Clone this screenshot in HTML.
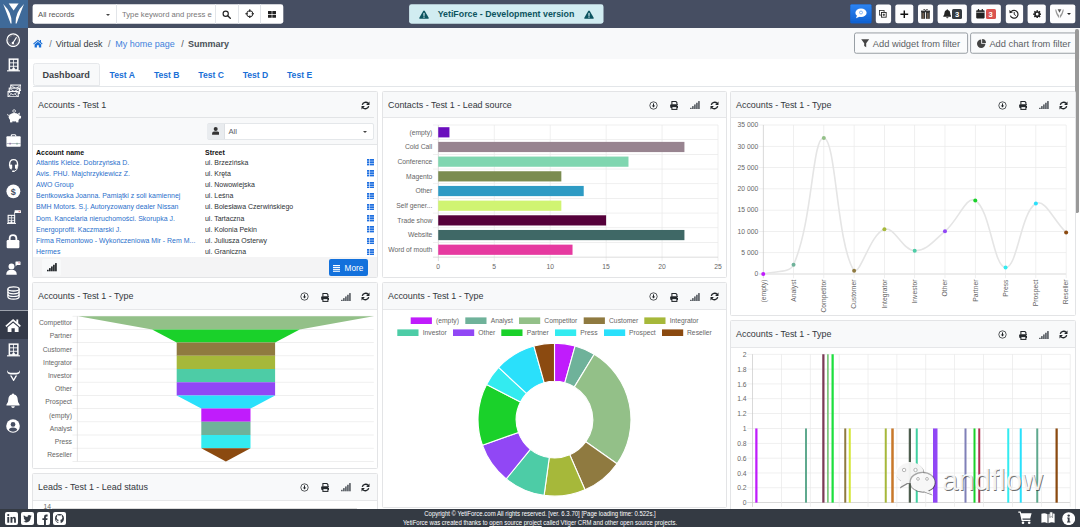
<!DOCTYPE html>
<html><head><meta charset="utf-8"><title>YetiForce</title>
<style>
*{box-sizing:border-box}
html,body{margin:0;padding:0;overflow:hidden}
body{width:1080px;height:527px;overflow:hidden;position:relative;background:#fff;font-family:"Liberation Sans",sans-serif;color:#212529}
.abs{position:absolute}
.t{position:absolute;white-space:nowrap;line-height:1}
#topbar{left:0;top:0;width:1080px;height:28px;background:#464e62}
#side{left:0;top:0;width:28px;height:509px;background:#464e62}
#logo{left:0;top:0;width:28px;height:28px;background:#3f6a99}
#crumb{left:28px;top:28px;width:1052px;height:30.5px;background:#f8f9fa}
#foot{left:0;top:508.5px;width:1080px;height:18.5px;background:#343a43}
.btn{position:absolute;top:4.5px;height:19px;background:#fff;border-radius:2px}
.w{position:absolute;background:#fff;border:1px solid #e3e4e6;border-radius:1.5px;overflow:hidden}
.wh{position:absolute;left:0;top:0;right:0;height:26px;background:#f8f9fa;border-bottom:1px solid #e6e7e9}
.wt{position:absolute;left:5px;top:8.5px;font-size:8.93px;line-height:1;white-space:nowrap;color:#33383d;letter-spacing:0}
.cl{font-size:6.75px;fill:#666;font-family:"Liberation Sans",sans-serif}
.row{position:absolute;left:0;right:0;height:11.2px;font-size:6.97px;line-height:11.2px;white-space:nowrap}
.row a{position:absolute;left:2.5px;color:#1a6fc9;text-decoration:none}
.row span{position:absolute;left:171px;color:#212529}
</style></head>
<body>
<div id="crumb" class="abs"></div>
<svg class="abs" style="left:33.300000000000004px;top:38.790000000000006px" width="9.799999999999999" height="8.819999999999999" viewBox="0 0 14 12.6" ><path d="M7 0.9L0.3 6.6L1.2 7.7L7 2.8L12.8 7.7L13.7 6.6L11.4 4.6V1.4H9.8V3.2z" fill="#1a6fd6"/><path d="M7 4.1L2.3 8V12H5.6V8.9H8.4V12H11.7V8z" fill="#1a6fd6"/></svg><div class="t" style="left:49.3px;top:40.2px;font-size:9px;color:#6c757d">/</div><div class="t" style="left:55.7px;top:40.2px;font-size:9px;color:#343a40">Virtual desk</div><div class="t" style="left:108px;top:40.2px;font-size:9px;color:#6c757d">/</div><div class="t" style="left:115.2px;top:40.2px;font-size:9px;color:#3f82dc">My home page</div><div class="t" style="left:181.3px;top:40.2px;font-size:9px;color:#495057">/</div><div class="t" style="left:188px;top:40.2px;font-size:9px;color:#495057;font-weight:bold">Summary</div><svg class="abs" style="left:840px;top:28px" width="240" height="32" viewBox="0 0 240 32" ><rect x="14.5" y="4.95" width="113.1" height="20.3" rx="1.8" fill="#fafbfc" stroke="#878e95" stroke-width="0.85"/><rect x="130.6" y="4.95" width="106.4" height="20.3" rx="1.8" fill="#fafbfc" stroke="#878e95" stroke-width="0.85"/></svg><svg class="abs" style="left:861.3px;top:39.3px" width="8.4" height="8.6" viewBox="0 0 8.4 8.6" ><path d="M0.2 0.3H8.2L5.2 4.2V8.3L3.2 6.9V4.2z" fill="#444"/></svg><div class="t" style="left:872.8px;top:39.5px;font-size:9.3px;color:#5a5f64">Add widget from filter</div><svg class="abs" style="left:977.4px;top:39px" width="9" height="9" viewBox="0 0 9 9" ><path d="M4.2 0.6V4.8H8.4A4.2 4.2 0 1 1 4.2 0.6z" fill="#444"/><path d="M5.1 0A4 4 0 0 1 9 3.9H5.1z" fill="#444"/></svg><div class="t" style="left:989.4px;top:39.5px;font-size:9.3px;color:#5a5f64">Add chart from filter</div><div class="abs" style="left:1075.4px;top:28.8px;width:3.5px;height:184.7px;background:#999;border-radius:1.7px"></div><div class="abs" style="left:33px;top:85.5px;width:1042px;height:1px;background:#e3e6e9"></div><div class="abs" style="left:32.8px;top:63.4px;width:66.8px;height:22.8px;background:#f8f9fa;border:1px solid #e6e8eb;border-radius:2.5px 2.5px 0 2.5px"></div><div class="t" style="left:42.4px;top:70.6px;font-size:9.1px;font-weight:bold;color:#3d4247">Dashboard</div><div class="t" style="left:109.6px;top:70.9px;font-size:8.6px;font-weight:bold;color:#1a6fd6">Test A</div><div class="t" style="left:153.95px;top:70.9px;font-size:8.6px;font-weight:bold;color:#1a6fd6">Test B</div><div class="t" style="left:198.3px;top:70.9px;font-size:8.6px;font-weight:bold;color:#1a6fd6">Test C</div><div class="t" style="left:242.65px;top:70.9px;font-size:8.6px;font-weight:bold;color:#1a6fd6">Test D</div><div class="t" style="left:287.0px;top:70.9px;font-size:8.6px;font-weight:bold;color:#1a6fd6">Test E</div><div class="w" style="left:32px;top:91px;width:346px;height:187px"><div class="wh"></div><div class="wt">Accounts - Test 1</div></div>
<svg class="abs" style="left:360.9px;top:100.7px" width="9" height="9" viewBox="0 0 9 9" ><path d="M1.3 3.9A3.4 3.4 0 0 1 7.2 2.4" fill="none" stroke="#212529" stroke-width="1.35"/><path d="M8.5 0.6V4H5.1z" fill="#212529"/><path d="M7.7 5.1A3.4 3.4 0 0 1 1.8 6.6" fill="none" stroke="#212529" stroke-width="1.35"/><path d="M0.5 8.4V5H3.9z" fill="#212529"/></svg><div class="abs" style="left:33px;top:117px;width:344px;height:28px;background:#f8f9fa;border-bottom:1px solid #e4e6e8"></div><div class="abs" style="left:36px;top:117px;width:338px;height:1px;background:#e2e4e6"></div><div class="abs" style="left:206.8px;top:123px;width:167.2px;height:16.8px;background:#fff;border:0.8px solid #e4e7ea;border-radius:2px"></div><div class="abs" style="left:207.2px;top:123.5px;width:17.5px;height:15.8px;background:#e9ecef;border-right:0.8px solid #dde0e4"></div><svg class="abs" style="left:211.9px;top:127.4px" width="7.4" height="8" viewBox="0 0 7.4 8" ><circle cx="3.7" cy="2.1" r="2" fill="#333"/><path d="M0.1 7.8V6.4Q0.1 4.6 2 4.6H5.4Q7.3 4.6 7.3 6.4V7.8z" fill="#333"/></svg><div class="t" style="left:228.4px;top:127.8px;font-size:7.7px;color:#5a6066">All</div><div class="abs" style="left:362.7px;top:131px;width:0;height:0;border-left:2.3px solid transparent;border-right:2.3px solid transparent;border-top:2.5px solid #444"></div><div class="t" style="left:36px;top:148.7px;font-size:7.6px;transform:scaleX(0.92);transform-origin:0 0;font-weight:bold;color:#111">Account name</div><div class="t" style="left:204.5px;top:148.7px;font-size:7.6px;transform:scaleX(0.92);transform-origin:0 0;font-weight:bold;color:#111">Street</div><div class="t" style="left:36px;top:158.55px;font-size:7.4px;transform:scaleX(0.942);transform-origin:0 0;color:#2a6fcb">Atlantis Kielce. Dobrzyńska D.</div><div class="t" style="left:204.5px;top:158.55px;font-size:7.4px;transform:scaleX(0.942);transform-origin:0 0;color:#2b2f33">ul. Brzezińska</div><svg class="abs" style="left:366.5px;top:159.1px" width="7.3" height="6.6" viewBox="0 0 7.3 6.6" ><rect x="0" y="0.0" width="2.1" height="1.8" fill="#1e6fe0"/><rect x="2.7" y="0.0" width="4.5" height="1.8" fill="#1e6fe0"/><rect x="0" y="2.3" width="2.1" height="1.8" fill="#1e6fe0"/><rect x="2.7" y="2.3" width="4.5" height="1.8" fill="#1e6fe0"/><rect x="0" y="4.6" width="2.1" height="1.8" fill="#1e6fe0"/><rect x="2.7" y="4.6" width="4.5" height="1.8" fill="#1e6fe0"/></svg><div class="t" style="left:36px;top:169.75px;font-size:7.4px;transform:scaleX(0.942);transform-origin:0 0;color:#2a6fcb">Avis. PHU. Majchrzykiewicz Z.</div><div class="t" style="left:204.5px;top:169.75px;font-size:7.4px;transform:scaleX(0.942);transform-origin:0 0;color:#2b2f33">ul. Kręta</div><svg class="abs" style="left:366.5px;top:170.29999999999998px" width="7.3" height="6.6" viewBox="0 0 7.3 6.6" ><rect x="0" y="0.0" width="2.1" height="1.8" fill="#1e6fe0"/><rect x="2.7" y="0.0" width="4.5" height="1.8" fill="#1e6fe0"/><rect x="0" y="2.3" width="2.1" height="1.8" fill="#1e6fe0"/><rect x="2.7" y="2.3" width="4.5" height="1.8" fill="#1e6fe0"/><rect x="0" y="4.6" width="2.1" height="1.8" fill="#1e6fe0"/><rect x="2.7" y="4.6" width="4.5" height="1.8" fill="#1e6fe0"/></svg><div class="t" style="left:36px;top:180.95px;font-size:7.4px;transform:scaleX(0.942);transform-origin:0 0;color:#2a6fcb">AWO Group</div><div class="t" style="left:204.5px;top:180.95px;font-size:7.4px;transform:scaleX(0.942);transform-origin:0 0;color:#2b2f33">ul. Nowowiejska</div><svg class="abs" style="left:366.5px;top:181.5px" width="7.3" height="6.6" viewBox="0 0 7.3 6.6" ><rect x="0" y="0.0" width="2.1" height="1.8" fill="#1e6fe0"/><rect x="2.7" y="0.0" width="4.5" height="1.8" fill="#1e6fe0"/><rect x="0" y="2.3" width="2.1" height="1.8" fill="#1e6fe0"/><rect x="2.7" y="2.3" width="4.5" height="1.8" fill="#1e6fe0"/><rect x="0" y="4.6" width="2.1" height="1.8" fill="#1e6fe0"/><rect x="2.7" y="4.6" width="4.5" height="1.8" fill="#1e6fe0"/></svg><div class="t" style="left:36px;top:192.15px;font-size:7.4px;transform:scaleX(0.942);transform-origin:0 0;color:#2a6fcb">Bentkowska Joanna. Pamiątki z soli kamiennej</div><div class="t" style="left:204.5px;top:192.15px;font-size:7.4px;transform:scaleX(0.942);transform-origin:0 0;color:#2b2f33">ul. Leśna</div><svg class="abs" style="left:366.5px;top:192.7px" width="7.3" height="6.6" viewBox="0 0 7.3 6.6" ><rect x="0" y="0.0" width="2.1" height="1.8" fill="#1e6fe0"/><rect x="2.7" y="0.0" width="4.5" height="1.8" fill="#1e6fe0"/><rect x="0" y="2.3" width="2.1" height="1.8" fill="#1e6fe0"/><rect x="2.7" y="2.3" width="4.5" height="1.8" fill="#1e6fe0"/><rect x="0" y="4.6" width="2.1" height="1.8" fill="#1e6fe0"/><rect x="2.7" y="4.6" width="4.5" height="1.8" fill="#1e6fe0"/></svg><div class="t" style="left:36px;top:203.35px;font-size:7.4px;transform:scaleX(0.942);transform-origin:0 0;color:#2a6fcb">BMH Motors. S.j. Autoryzowany dealer Nissan</div><div class="t" style="left:204.5px;top:203.35px;font-size:7.4px;transform:scaleX(0.942);transform-origin:0 0;color:#2b2f33">ul. Bolesława Czerwińskiego</div><svg class="abs" style="left:366.5px;top:203.9px" width="7.3" height="6.6" viewBox="0 0 7.3 6.6" ><rect x="0" y="0.0" width="2.1" height="1.8" fill="#1e6fe0"/><rect x="2.7" y="0.0" width="4.5" height="1.8" fill="#1e6fe0"/><rect x="0" y="2.3" width="2.1" height="1.8" fill="#1e6fe0"/><rect x="2.7" y="2.3" width="4.5" height="1.8" fill="#1e6fe0"/><rect x="0" y="4.6" width="2.1" height="1.8" fill="#1e6fe0"/><rect x="2.7" y="4.6" width="4.5" height="1.8" fill="#1e6fe0"/></svg><div class="t" style="left:36px;top:214.55px;font-size:7.4px;transform:scaleX(0.942);transform-origin:0 0;color:#2a6fcb">Dom. Kancelaria nieruchomości. Skorupka J.</div><div class="t" style="left:204.5px;top:214.55px;font-size:7.4px;transform:scaleX(0.942);transform-origin:0 0;color:#2b2f33">ul. Tartaczna</div><svg class="abs" style="left:366.5px;top:215.1px" width="7.3" height="6.6" viewBox="0 0 7.3 6.6" ><rect x="0" y="0.0" width="2.1" height="1.8" fill="#1e6fe0"/><rect x="2.7" y="0.0" width="4.5" height="1.8" fill="#1e6fe0"/><rect x="0" y="2.3" width="2.1" height="1.8" fill="#1e6fe0"/><rect x="2.7" y="2.3" width="4.5" height="1.8" fill="#1e6fe0"/><rect x="0" y="4.6" width="2.1" height="1.8" fill="#1e6fe0"/><rect x="2.7" y="4.6" width="4.5" height="1.8" fill="#1e6fe0"/></svg><div class="t" style="left:36px;top:225.75px;font-size:7.4px;transform:scaleX(0.942);transform-origin:0 0;color:#2a6fcb">Energoprofit. Kaczmarski J.</div><div class="t" style="left:204.5px;top:225.75px;font-size:7.4px;transform:scaleX(0.942);transform-origin:0 0;color:#2b2f33">ul. Kolonia Pekin</div><svg class="abs" style="left:366.5px;top:226.29999999999998px" width="7.3" height="6.6" viewBox="0 0 7.3 6.6" ><rect x="0" y="0.0" width="2.1" height="1.8" fill="#1e6fe0"/><rect x="2.7" y="0.0" width="4.5" height="1.8" fill="#1e6fe0"/><rect x="0" y="2.3" width="2.1" height="1.8" fill="#1e6fe0"/><rect x="2.7" y="2.3" width="4.5" height="1.8" fill="#1e6fe0"/><rect x="0" y="4.6" width="2.1" height="1.8" fill="#1e6fe0"/><rect x="2.7" y="4.6" width="4.5" height="1.8" fill="#1e6fe0"/></svg><div class="t" style="left:36px;top:236.95px;font-size:7.4px;transform:scaleX(0.942);transform-origin:0 0;color:#2a6fcb">Firma Remontowo - Wykończeniowa Mir - Rem M...</div><div class="t" style="left:204.5px;top:236.95px;font-size:7.4px;transform:scaleX(0.942);transform-origin:0 0;color:#2b2f33">ul. Juliusza Osterwy</div><svg class="abs" style="left:366.5px;top:237.49999999999997px" width="7.3" height="6.6" viewBox="0 0 7.3 6.6" ><rect x="0" y="0.0" width="2.1" height="1.8" fill="#1e6fe0"/><rect x="2.7" y="0.0" width="4.5" height="1.8" fill="#1e6fe0"/><rect x="0" y="2.3" width="2.1" height="1.8" fill="#1e6fe0"/><rect x="2.7" y="2.3" width="4.5" height="1.8" fill="#1e6fe0"/><rect x="0" y="4.6" width="2.1" height="1.8" fill="#1e6fe0"/><rect x="2.7" y="4.6" width="4.5" height="1.8" fill="#1e6fe0"/></svg><div class="t" style="left:36px;top:248.15px;font-size:7.4px;transform:scaleX(0.942);transform-origin:0 0;color:#2a6fcb">Hermes</div><div class="t" style="left:204.5px;top:248.15px;font-size:7.4px;transform:scaleX(0.942);transform-origin:0 0;color:#2b2f33">ul. Graniczna</div><svg class="abs" style="left:366.5px;top:248.7px" width="7.3" height="6.6" viewBox="0 0 7.3 6.6" ><rect x="0" y="0.0" width="2.1" height="1.8" fill="#1e6fe0"/><rect x="2.7" y="0.0" width="4.5" height="1.8" fill="#1e6fe0"/><rect x="0" y="2.3" width="2.1" height="1.8" fill="#1e6fe0"/><rect x="2.7" y="2.3" width="4.5" height="1.8" fill="#1e6fe0"/><rect x="0" y="4.6" width="2.1" height="1.8" fill="#1e6fe0"/><rect x="2.7" y="4.6" width="4.5" height="1.8" fill="#1e6fe0"/></svg><div class="abs" style="left:33px;top:257px;width:344px;height:20px;background:#f4f4f5"></div><div class="abs" style="left:41.5px;top:258.6px;width:19.5px;height:17.5px;background:#f8f9fa;border-radius:2px"></div><svg class="abs" style="left:47.1px;top:263.20000000000005px" width="10" height="8.4" viewBox="0 0 10 8.4" ><rect x="0.0" y="6.800000000000001" width="1.7" height="1.5" fill="#212529"/><rect x="2.02" y="5.120000000000001" width="1.7" height="3.1799999999999997" fill="#212529"/><rect x="4.04" y="3.4400000000000013" width="1.7" height="4.859999999999999" fill="#212529"/><rect x="6.0600000000000005" y="1.7600000000000007" width="1.7" height="6.54" fill="#212529"/><rect x="8.08" y="0.08000000000000185" width="1.7" height="8.219999999999999" fill="#212529"/></svg><div class="abs" style="left:328.6px;top:259.3px;width:39.6px;height:16.8px;background:#1371dc;border-radius:2px"></div><svg class="abs" style="left:333.3px;top:264.5px" width="7.2" height="7" viewBox="0 0 7.2 7" ><rect x="0" y="0.0" width="7.2" height="1.1" fill="#fff"/><rect x="0" y="1.9" width="7.2" height="1.1" fill="#fff"/><rect x="0" y="3.8" width="7.2" height="1.1" fill="#fff"/><rect x="0" y="5.699999999999999" width="7.2" height="1.1" fill="#fff"/></svg><div class="t" style="left:344.6px;top:264.9px;font-size:8.2px;color:#fff">More</div><div class="w" style="left:32px;top:282px;width:346px;height:187px"><div class="wh" style="height:26.9px"></div><div class="wt" style="top:9.4px">Accounts - Test 1 - Type</div></div>
<svg class="abs" style="left:360.9px;top:292.33px" width="9" height="9" viewBox="0 0 9 9" ><path d="M1.3 3.9A3.4 3.4 0 0 1 7.2 2.4" fill="none" stroke="#212529" stroke-width="1.35"/><path d="M8.5 0.6V4H5.1z" fill="#212529"/><path d="M7.7 5.1A3.4 3.4 0 0 1 1.8 6.6" fill="none" stroke="#212529" stroke-width="1.35"/><path d="M0.5 8.4V5H3.9z" fill="#212529"/></svg><svg class="abs" style="left:299.9px;top:292.33px" width="9" height="9" viewBox="0 0 9 9" ><circle cx="4.5" cy="4.5" r="3.7" fill="none" stroke="#212529" stroke-width="0.75"/><path d="M4.5 2.4V5.2" stroke="#212529" stroke-width="1"/><path d="M2.8 4.6H6.2L4.5 6.6z" fill="#212529"/></svg><svg class="abs" style="left:320.5px;top:292.53px" width="8.8" height="9" viewBox="0 0 8.8 9" ><path d="M1.9 3.6V0.55H5.9L6.9 1.5V3.6" fill="#f8f9fa" stroke="#212529" stroke-width="1.05"/><rect x="0.2" y="3.3" width="8.4" height="3.6" rx="0.9" fill="#212529"/><rect x="1.9" y="5.6" width="5" height="2.8" fill="#f8f9fa" stroke="#212529" stroke-width="1.05"/><rect x="7" y="4.2" width="0.8" height="0.8" fill="#f8f9fa"/></svg><svg class="abs" style="left:341.29999999999995px;top:292.63px" width="10" height="8.4" viewBox="0 0 10 8.4" ><rect x="0.0" y="6.800000000000001" width="1.7" height="1.5" fill="#5d6268"/><rect x="2.02" y="5.120000000000001" width="1.7" height="3.1799999999999997" fill="#5d6268"/><rect x="4.04" y="3.4400000000000013" width="1.7" height="4.859999999999999" fill="#5d6268"/><rect x="6.0600000000000005" y="1.7600000000000007" width="1.7" height="6.54" fill="#5d6268"/><rect x="8.08" y="0.08000000000000185" width="1.7" height="8.219999999999999" fill="#5d6268"/></svg><svg class="abs" style="left:0;top:0" width="1080" height="527" viewBox="0 0 1080 527" style="pointer-events:none"><rect x="72.5" y="315.85" width="301.3" height="0.7" fill="#e9e9e9"/><rect x="72.5" y="329.05" width="301.3" height="0.7" fill="#e9e9e9"/><rect x="72.5" y="342.25" width="301.3" height="0.7" fill="#e9e9e9"/><rect x="72.5" y="355.45" width="301.3" height="0.7" fill="#e9e9e9"/><rect x="72.5" y="368.65" width="301.3" height="0.7" fill="#e9e9e9"/><rect x="72.5" y="381.85" width="301.3" height="0.7" fill="#e9e9e9"/><rect x="72.5" y="395.05" width="301.3" height="0.7" fill="#e9e9e9"/><rect x="72.5" y="408.25" width="301.3" height="0.7" fill="#e9e9e9"/><rect x="72.5" y="421.45" width="301.3" height="0.7" fill="#e9e9e9"/><rect x="72.5" y="434.65" width="301.3" height="0.7" fill="#e9e9e9"/><rect x="72.5" y="447.85" width="301.3" height="0.7" fill="#e9e9e9"/><rect x="72.5" y="461.05" width="301.3" height="0.7" fill="#e9e9e9"/><rect x="76.9" y="316.2" width="0.7" height="145.2" fill="#d8d8d8"/><path d="M78.30 316.20H373.50L299.70 329.40H152.10z" fill="#93c088"/><text class="cl" x="72" y="325.10" text-anchor="end">Competitor</text><path d="M152.10 329.40H299.70L275.10 342.60H176.70z" fill="#1ad12a"/><text class="cl" x="72" y="338.30" text-anchor="end">Partner</text><path d="M176.70 342.60H275.10L275.10 355.80H176.70z" fill="#8f7a40"/><text class="cl" x="72" y="351.50" text-anchor="end">Customer</text><path d="M176.70 355.80H275.10L275.10 369.00H176.70z" fill="#a6b83a"/><text class="cl" x="72" y="364.70" text-anchor="end">Integrator</text><path d="M176.70 369.00H275.10L275.10 382.20H176.70z" fill="#4dcca6"/><text class="cl" x="72" y="377.90" text-anchor="end">Investor</text><path d="M176.70 382.20H275.10L275.10 395.40H176.70z" fill="#9147f5"/><text class="cl" x="72" y="391.10" text-anchor="end">Other</text><path d="M176.70 395.40H275.10L250.50 408.60H201.30z" fill="#2ae0fb"/><text class="cl" x="72" y="404.30" text-anchor="end">Prospect</text><path d="M201.30 408.60H250.50L250.50 421.80H201.30z" fill="#c01cfc"/><text class="cl" x="72" y="417.50" text-anchor="end">(empty)</text><path d="M201.30 421.80H250.50L250.50 435.00H201.30z" fill="#6fb29a"/><text class="cl" x="72" y="430.70" text-anchor="end">Analyst</text><path d="M201.30 435.00H250.50L250.50 448.20H201.30z" fill="#33ebf0"/><text class="cl" x="72" y="443.90" text-anchor="end">Press</text><path d="M201.30 448.20H250.50L225.90 461.40H225.90z" fill="#8b4a10"/><text class="cl" x="72" y="457.10" text-anchor="end">Reseller</text></svg><div class="w" style="left:32px;top:473px;width:346px;height:48px"><div class="wh" style="height:26.6px"></div><div class="wt" style="top:9.1px">Leads - Test 1 - Lead status</div></div>
<svg class="abs" style="left:360.9px;top:483.12px" width="9" height="9" viewBox="0 0 9 9" ><path d="M1.3 3.9A3.4 3.4 0 0 1 7.2 2.4" fill="none" stroke="#212529" stroke-width="1.35"/><path d="M8.5 0.6V4H5.1z" fill="#212529"/><path d="M7.7 5.1A3.4 3.4 0 0 1 1.8 6.6" fill="none" stroke="#212529" stroke-width="1.35"/><path d="M0.5 8.4V5H3.9z" fill="#212529"/></svg><svg class="abs" style="left:299.9px;top:483.12px" width="9" height="9" viewBox="0 0 9 9" ><circle cx="4.5" cy="4.5" r="3.7" fill="none" stroke="#212529" stroke-width="0.75"/><path d="M4.5 2.4V5.2" stroke="#212529" stroke-width="1"/><path d="M2.8 4.6H6.2L4.5 6.6z" fill="#212529"/></svg><svg class="abs" style="left:320.5px;top:483.32px" width="8.8" height="9" viewBox="0 0 8.8 9" ><path d="M1.9 3.6V0.55H5.9L6.9 1.5V3.6" fill="#f8f9fa" stroke="#212529" stroke-width="1.05"/><rect x="0.2" y="3.3" width="8.4" height="3.6" rx="0.9" fill="#212529"/><rect x="1.9" y="5.6" width="5" height="2.8" fill="#f8f9fa" stroke="#212529" stroke-width="1.05"/><rect x="7" y="4.2" width="0.8" height="0.8" fill="#f8f9fa"/></svg><svg class="abs" style="left:341.29999999999995px;top:483.42px" width="10" height="8.4" viewBox="0 0 10 8.4" ><rect x="0.0" y="6.800000000000001" width="1.7" height="1.5" fill="#5d6268"/><rect x="2.02" y="5.120000000000001" width="1.7" height="3.1799999999999997" fill="#5d6268"/><rect x="4.04" y="3.4400000000000013" width="1.7" height="4.859999999999999" fill="#5d6268"/><rect x="6.0600000000000005" y="1.7600000000000007" width="1.7" height="6.54" fill="#5d6268"/><rect x="8.08" y="0.08000000000000185" width="1.7" height="8.219999999999999" fill="#5d6268"/></svg><div class="t" style="left:43.4px;top:503.6px;font-size:6.75px;color:#666">14</div><div class="abs" style="left:52px;top:507.6px;width:305px;height:0.8px;background:#dcdcdc"></div><div class="w" style="left:382px;top:91px;width:345px;height:187px"><div class="wh"></div><div class="wt">Contacts - Test 1 - Lead source</div></div>
<svg class="abs" style="left:709.9px;top:100.7px" width="9" height="9" viewBox="0 0 9 9" ><path d="M1.3 3.9A3.4 3.4 0 0 1 7.2 2.4" fill="none" stroke="#212529" stroke-width="1.35"/><path d="M8.5 0.6V4H5.1z" fill="#212529"/><path d="M7.7 5.1A3.4 3.4 0 0 1 1.8 6.6" fill="none" stroke="#212529" stroke-width="1.35"/><path d="M0.5 8.4V5H3.9z" fill="#212529"/></svg><svg class="abs" style="left:648.9px;top:100.7px" width="9" height="9" viewBox="0 0 9 9" ><circle cx="4.5" cy="4.5" r="3.7" fill="none" stroke="#212529" stroke-width="0.75"/><path d="M4.5 2.4V5.2" stroke="#212529" stroke-width="1"/><path d="M2.8 4.6H6.2L4.5 6.6z" fill="#212529"/></svg><svg class="abs" style="left:669.5px;top:100.9px" width="8.8" height="9" viewBox="0 0 8.8 9" ><path d="M1.9 3.6V0.55H5.9L6.9 1.5V3.6" fill="#f8f9fa" stroke="#212529" stroke-width="1.05"/><rect x="0.2" y="3.3" width="8.4" height="3.6" rx="0.9" fill="#212529"/><rect x="1.9" y="5.6" width="5" height="2.8" fill="#f8f9fa" stroke="#212529" stroke-width="1.05"/><rect x="7" y="4.2" width="0.8" height="0.8" fill="#f8f9fa"/></svg><svg class="abs" style="left:690.3px;top:101.0px" width="10" height="8.4" viewBox="0 0 10 8.4" ><rect x="0.0" y="6.800000000000001" width="1.7" height="1.5" fill="#5d6268"/><rect x="2.02" y="5.120000000000001" width="1.7" height="3.1799999999999997" fill="#5d6268"/><rect x="4.04" y="3.4400000000000013" width="1.7" height="4.859999999999999" fill="#5d6268"/><rect x="6.0600000000000005" y="1.7600000000000007" width="1.7" height="6.54" fill="#5d6268"/><rect x="8.08" y="0.08000000000000185" width="1.7" height="8.219999999999999" fill="#5d6268"/></svg><svg class="abs" style="left:0px;top:0px" width="1080" height="527" viewBox="0 0 1080 527" ><rect x="437.90" y="125.0" width="0.7" height="136.12" fill="#cfcfcf"/><text class="cl" x="438.25" y="269.12" text-anchor="middle">0</text><rect x="493.85" y="125.0" width="0.7" height="136.12" fill="#e9e9e9"/><text class="cl" x="494.20" y="269.12" text-anchor="middle">5</text><rect x="549.80" y="125.0" width="0.7" height="136.12" fill="#e9e9e9"/><text class="cl" x="550.15" y="269.12" text-anchor="middle">10</text><rect x="605.75" y="125.0" width="0.7" height="136.12" fill="#e9e9e9"/><text class="cl" x="606.10" y="269.12" text-anchor="middle">15</text><rect x="661.70" y="125.0" width="0.7" height="136.12" fill="#e9e9e9"/><text class="cl" x="662.05" y="269.12" text-anchor="middle">20</text><rect x="717.65" y="125.0" width="0.7" height="136.12" fill="#e9e9e9"/><text class="cl" x="718.00" y="269.12" text-anchor="middle">25</text><rect x="432.95" y="124.65" width="285.05" height="0.7" fill="#e9e9e9"/><rect x="432.95" y="139.33" width="285.05" height="0.7" fill="#e9e9e9"/><rect x="432.95" y="154.01" width="285.05" height="0.7" fill="#e9e9e9"/><rect x="432.95" y="168.69" width="285.05" height="0.7" fill="#e9e9e9"/><rect x="432.95" y="183.37" width="285.05" height="0.7" fill="#e9e9e9"/><rect x="432.95" y="198.05" width="285.05" height="0.7" fill="#e9e9e9"/><rect x="432.95" y="212.73" width="285.05" height="0.7" fill="#e9e9e9"/><rect x="432.95" y="227.41" width="285.05" height="0.7" fill="#e9e9e9"/><rect x="432.95" y="242.09" width="285.05" height="0.7" fill="#e9e9e9"/><rect x="432.95" y="256.77" width="285.05" height="0.7" fill="#cfcfcf"/><rect x="438.25" y="127.20" width="11.19" height="10.2" fill="#6a0dbd"/><text class="cl" x="432.3" y="134.64" text-anchor="end">(empty)</text><rect x="438.25" y="141.88" width="246.18" height="10.2" fill="#988490"/><text class="cl" x="432.3" y="149.32" text-anchor="end">Cold Call</text><rect x="438.25" y="156.56" width="190.23" height="10.2" fill="#80d6b0"/><text class="cl" x="432.3" y="164.00" text-anchor="end">Conference</text><rect x="438.25" y="171.24" width="123.09" height="10.2" fill="#7b8c50"/><text class="cl" x="432.3" y="178.68" text-anchor="end">Magento</text><rect x="438.25" y="185.92" width="145.47" height="10.2" fill="#2e9bc4"/><text class="cl" x="432.3" y="193.36" text-anchor="end">Other</text><rect x="438.25" y="200.60" width="123.09" height="10.2" fill="#d0f472"/><text class="cl" x="432.3" y="208.04" text-anchor="end">Self gener...</text><rect x="438.25" y="215.28" width="167.85" height="10.2" fill="#55003a"/><text class="cl" x="432.3" y="222.72" text-anchor="end">Trade show</text><rect x="438.25" y="229.96" width="246.18" height="10.2" fill="#3f6866"/><text class="cl" x="432.3" y="237.40" text-anchor="end">Website</text><rect x="438.25" y="244.64" width="134.28" height="10.2" fill="#e63aa0"/><text class="cl" x="432.3" y="252.08" text-anchor="end">Word of mouth</text></svg><div class="w" style="left:382px;top:282px;width:345px;height:225.6px"><div class="wh" style="height:26.9px"></div><div class="wt" style="top:9.4px">Accounts - Test 1 - Type</div></div>
<svg class="abs" style="left:709.9px;top:292.33px" width="9" height="9" viewBox="0 0 9 9" ><path d="M1.3 3.9A3.4 3.4 0 0 1 7.2 2.4" fill="none" stroke="#212529" stroke-width="1.35"/><path d="M8.5 0.6V4H5.1z" fill="#212529"/><path d="M7.7 5.1A3.4 3.4 0 0 1 1.8 6.6" fill="none" stroke="#212529" stroke-width="1.35"/><path d="M0.5 8.4V5H3.9z" fill="#212529"/></svg><svg class="abs" style="left:648.9px;top:292.33px" width="9" height="9" viewBox="0 0 9 9" ><circle cx="4.5" cy="4.5" r="3.7" fill="none" stroke="#212529" stroke-width="0.75"/><path d="M4.5 2.4V5.2" stroke="#212529" stroke-width="1"/><path d="M2.8 4.6H6.2L4.5 6.6z" fill="#212529"/></svg><svg class="abs" style="left:669.5px;top:292.53px" width="8.8" height="9" viewBox="0 0 8.8 9" ><path d="M1.9 3.6V0.55H5.9L6.9 1.5V3.6" fill="#f8f9fa" stroke="#212529" stroke-width="1.05"/><rect x="0.2" y="3.3" width="8.4" height="3.6" rx="0.9" fill="#212529"/><rect x="1.9" y="5.6" width="5" height="2.8" fill="#f8f9fa" stroke="#212529" stroke-width="1.05"/><rect x="7" y="4.2" width="0.8" height="0.8" fill="#f8f9fa"/></svg><svg class="abs" style="left:690.3px;top:292.63px" width="10" height="8.4" viewBox="0 0 10 8.4" ><rect x="0.0" y="6.800000000000001" width="1.7" height="1.5" fill="#5d6268"/><rect x="2.02" y="5.120000000000001" width="1.7" height="3.1799999999999997" fill="#5d6268"/><rect x="4.04" y="3.4400000000000013" width="1.7" height="4.859999999999999" fill="#5d6268"/><rect x="6.0600000000000005" y="1.7600000000000007" width="1.7" height="6.54" fill="#5d6268"/><rect x="8.08" y="0.08000000000000185" width="1.7" height="8.219999999999999" fill="#5d6268"/></svg><svg class="abs" style="left:0px;top:0px" width="1080" height="527" viewBox="0 0 1080 527" ><path d="M554.50 343.10A76.5 76.5 0 0 1 575.14 345.94L564.83 382.72A38.3 38.3 0 0 0 554.50 381.30z" fill="#c01cfc" stroke="#fff" stroke-width="1.1" stroke-linejoin="round"/><path d="M575.14 345.94A76.5 76.5 0 0 1 594.25 354.24L574.40 386.88A38.3 38.3 0 0 0 564.83 382.72z" fill="#6fb29a" stroke="#fff" stroke-width="1.1" stroke-linejoin="round"/><path d="M594.25 354.24A76.5 76.5 0 0 1 617.00 463.72L585.79 441.69A38.3 38.3 0 0 0 574.40 386.88z" fill="#93c088" stroke="#fff" stroke-width="1.1" stroke-linejoin="round"/><path d="M617.00 463.72A76.5 76.5 0 0 1 584.98 489.77L569.76 454.73A38.3 38.3 0 0 0 585.79 441.69z" fill="#8f7a40" stroke="#fff" stroke-width="1.1" stroke-linejoin="round"/><path d="M584.98 489.77A76.5 76.5 0 0 1 544.08 495.39L549.28 457.54A38.3 38.3 0 0 0 569.76 454.73z" fill="#a6b83a" stroke="#fff" stroke-width="1.1" stroke-linejoin="round"/><path d="M544.08 495.39A76.5 76.5 0 0 1 506.22 478.94L530.33 449.31A38.3 38.3 0 0 0 549.28 457.54z" fill="#4dcca6" stroke="#fff" stroke-width="1.1" stroke-linejoin="round"/><path d="M506.22 478.94A76.5 76.5 0 0 1 482.42 445.22L518.41 432.43A38.3 38.3 0 0 0 530.33 449.31z" fill="#9147f5" stroke="#fff" stroke-width="1.1" stroke-linejoin="round"/><path d="M482.42 445.22A76.5 76.5 0 0 1 486.58 384.41L520.49 401.98A38.3 38.3 0 0 0 518.41 432.43z" fill="#1ad12a" stroke="#fff" stroke-width="1.1" stroke-linejoin="round"/><path d="M486.58 384.41A76.5 76.5 0 0 1 498.59 367.38L526.51 393.46A38.3 38.3 0 0 0 520.49 401.98z" fill="#33ebf0" stroke="#fff" stroke-width="1.1" stroke-linejoin="round"/><path d="M498.59 367.38A76.5 76.5 0 0 1 533.86 345.94L544.17 382.72A38.3 38.3 0 0 0 526.51 393.46z" fill="#2ae0fb" stroke="#fff" stroke-width="1.1" stroke-linejoin="round"/><path d="M533.86 345.94A76.5 76.5 0 0 1 554.50 343.10L554.50 381.30A38.3 38.3 0 0 0 544.17 382.72z" fill="#8b4a10" stroke="#fff" stroke-width="1.1" stroke-linejoin="round"/><rect x="410.7" y="317.4" width="21.2" height="6.6" fill="#c01cfc"/><text class="cl" x="436" y="323.1">(empty)</text><rect x="465.3" y="317.4" width="21.2" height="6.6" fill="#6fb29a"/><text class="cl" x="490.7" y="323.1">Analyst</text><rect x="519" y="317.4" width="21.2" height="6.6" fill="#93c088"/><text class="cl" x="544.3" y="323.1">Competitor</text><rect x="583.7" y="317.4" width="21.2" height="6.6" fill="#8f7a40"/><text class="cl" x="609" y="323.1">Customer</text><rect x="644.3" y="317.4" width="21.2" height="6.6" fill="#a6b83a"/><text class="cl" x="669.7" y="323.1">Integrator</text><rect x="397.3" y="329.4" width="21.2" height="6.6" fill="#4dcca6"/><text class="cl" x="422.7" y="335.1">Investor</text><rect x="453" y="329.4" width="21.2" height="6.6" fill="#9147f5"/><text class="cl" x="478.3" y="335.1">Other</text><rect x="501.3" y="329.4" width="21.2" height="6.6" fill="#1ad12a"/><text class="cl" x="526.7" y="335.1">Partner</text><rect x="555" y="329.4" width="21.2" height="6.6" fill="#33ebf0"/><text class="cl" x="580.3" y="335.1">Press</text><rect x="604" y="329.4" width="21.2" height="6.6" fill="#2ae0fb"/><text class="cl" x="629" y="335.1">Prospect</text><rect x="662" y="329.4" width="21.2" height="6.6" fill="#8b4a10"/><text class="cl" x="687" y="335.1">Reseller</text></svg><div class="w" style="left:730px;top:91px;width:346px;height:225px"><div class="wh"></div><div class="wt">Accounts - Test 1 - Type</div></div>
<svg class="abs" style="left:1058.9px;top:100.7px" width="9" height="9" viewBox="0 0 9 9" ><path d="M1.3 3.9A3.4 3.4 0 0 1 7.2 2.4" fill="none" stroke="#212529" stroke-width="1.35"/><path d="M8.5 0.6V4H5.1z" fill="#212529"/><path d="M7.7 5.1A3.4 3.4 0 0 1 1.8 6.6" fill="none" stroke="#212529" stroke-width="1.35"/><path d="M0.5 8.4V5H3.9z" fill="#212529"/></svg><svg class="abs" style="left:997.9px;top:100.7px" width="9" height="9" viewBox="0 0 9 9" ><circle cx="4.5" cy="4.5" r="3.7" fill="none" stroke="#212529" stroke-width="0.75"/><path d="M4.5 2.4V5.2" stroke="#212529" stroke-width="1"/><path d="M2.8 4.6H6.2L4.5 6.6z" fill="#212529"/></svg><svg class="abs" style="left:1018.5px;top:100.9px" width="8.8" height="9" viewBox="0 0 8.8 9" ><path d="M1.9 3.6V0.55H5.9L6.9 1.5V3.6" fill="#f8f9fa" stroke="#212529" stroke-width="1.05"/><rect x="0.2" y="3.3" width="8.4" height="3.6" rx="0.9" fill="#212529"/><rect x="1.9" y="5.6" width="5" height="2.8" fill="#f8f9fa" stroke="#212529" stroke-width="1.05"/><rect x="7" y="4.2" width="0.8" height="0.8" fill="#f8f9fa"/></svg><svg class="abs" style="left:1039.3000000000002px;top:101.0px" width="10" height="8.4" viewBox="0 0 10 8.4" ><rect x="0.0" y="6.800000000000001" width="1.7" height="1.5" fill="#5d6268"/><rect x="2.02" y="5.120000000000001" width="1.7" height="3.1799999999999997" fill="#5d6268"/><rect x="4.04" y="3.4400000000000013" width="1.7" height="4.859999999999999" fill="#5d6268"/><rect x="6.0600000000000005" y="1.7600000000000007" width="1.7" height="6.54" fill="#5d6268"/><rect x="8.08" y="0.08000000000000185" width="1.7" height="8.219999999999999" fill="#5d6268"/></svg><svg class="abs" style="left:0px;top:0px" width="1080" height="527" viewBox="0 0 1080 527" ><rect x="759.05" y="273.65" width="307.10" height="0.7" fill="#c9c9c9"/><text class="cl" x="758.2" y="276.30" text-anchor="end">0</text><rect x="759.05" y="252.36" width="307.10" height="0.7" fill="#e9e9e9"/><text class="cl" x="758.2" y="255.01" text-anchor="end">5 000</text><rect x="759.05" y="231.08" width="307.10" height="0.7" fill="#e9e9e9"/><text class="cl" x="758.2" y="233.73" text-anchor="end">10 000</text><rect x="759.05" y="209.79" width="307.10" height="0.7" fill="#e9e9e9"/><text class="cl" x="758.2" y="212.44" text-anchor="end">15 000</text><rect x="759.05" y="188.51" width="307.10" height="0.7" fill="#e9e9e9"/><text class="cl" x="758.2" y="191.16" text-anchor="end">20 000</text><rect x="759.05" y="167.22" width="307.10" height="0.7" fill="#e9e9e9"/><text class="cl" x="758.2" y="169.87" text-anchor="end">25 000</text><rect x="759.05" y="145.94" width="307.10" height="0.7" fill="#e9e9e9"/><text class="cl" x="758.2" y="148.59" text-anchor="end">30 000</text><rect x="759.05" y="124.65" width="307.10" height="0.7" fill="#e9e9e9"/><text class="cl" x="758.2" y="127.30" text-anchor="end">35 000</text><rect x="762.90" y="125.0" width="0.7" height="153.20" fill="#c9c9c9"/><rect x="793.19" y="125.0" width="0.7" height="153.20" fill="#e9e9e9"/><rect x="823.48" y="125.0" width="0.7" height="153.20" fill="#e9e9e9"/><rect x="853.77" y="125.0" width="0.7" height="153.20" fill="#e9e9e9"/><rect x="884.06" y="125.0" width="0.7" height="153.20" fill="#e9e9e9"/><rect x="914.35" y="125.0" width="0.7" height="153.20" fill="#e9e9e9"/><rect x="944.64" y="125.0" width="0.7" height="153.20" fill="#e9e9e9"/><rect x="974.93" y="125.0" width="0.7" height="153.20" fill="#e9e9e9"/><rect x="1005.22" y="125.0" width="0.7" height="153.20" fill="#e9e9e9"/><rect x="1035.51" y="125.0" width="0.7" height="153.20" fill="#e9e9e9"/><rect x="1065.80" y="125.0" width="0.7" height="153.20" fill="#e9e9e9"/><path d="M763.25 274.00C775.37 270.30 788.80 274.00 793.54 264.75C813.03 221.00 811.98 136.85 823.83 138.03C836.21 139.25 836.53 244.26 854.12 270.75C860.76 274.00 870.35 233.90 884.41 229.26C894.58 225.91 902.40 250.35 914.70 250.76C926.63 251.15 933.97 240.40 944.99 231.26C958.20 220.30 966.32 195.15 975.28 200.51C990.55 209.65 993.23 266.89 1005.57 267.50C1017.46 268.09 1020.64 212.30 1035.86 203.51C1044.87 198.31 1054.03 220.91 1066.15 232.51" fill="none" stroke="#e5e5e5" stroke-width="1.6"/><circle cx="763.25" cy="274.00" r="2" fill="#c01cfc"/><text class="cl" transform="translate(765.55 279.60) rotate(-90)" text-anchor="end">(empty)</text><circle cx="793.54" cy="264.75" r="2" fill="#6fb29a"/><text class="cl" transform="translate(795.84 279.60) rotate(-90)" text-anchor="end">Analyst</text><circle cx="823.83" cy="138.03" r="2" fill="#93c088"/><text class="cl" transform="translate(826.13 279.60) rotate(-90)" text-anchor="end">Competitor</text><circle cx="854.12" cy="270.75" r="2" fill="#8f7a40"/><text class="cl" transform="translate(856.42 279.60) rotate(-90)" text-anchor="end">Customer</text><circle cx="884.41" cy="229.26" r="2" fill="#a6b83a"/><text class="cl" transform="translate(886.71 279.60) rotate(-90)" text-anchor="end">Integrator</text><circle cx="914.70" cy="250.76" r="2" fill="#4dcca6"/><text class="cl" transform="translate(917.00 279.60) rotate(-90)" text-anchor="end">Investor</text><circle cx="944.99" cy="231.26" r="2" fill="#9147f5"/><text class="cl" transform="translate(947.29 279.60) rotate(-90)" text-anchor="end">Other</text><circle cx="975.28" cy="200.51" r="2" fill="#1ad12a"/><text class="cl" transform="translate(977.58 279.60) rotate(-90)" text-anchor="end">Partner</text><circle cx="1005.57" cy="267.50" r="2" fill="#33ebf0"/><text class="cl" transform="translate(1007.87 279.60) rotate(-90)" text-anchor="end">Press</text><circle cx="1035.86" cy="203.51" r="2" fill="#2ae0fb"/><text class="cl" transform="translate(1038.16 279.60) rotate(-90)" text-anchor="end">Prospect</text><circle cx="1066.15" cy="232.51" r="2" fill="#8b4a10"/><text class="cl" transform="translate(1068.45 279.60) rotate(-90)" text-anchor="end">Reseller</text></svg><div class="w" style="left:730px;top:320px;width:346px;height:200px"><div class="wh" style="height:26.9px"></div><div class="wt" style="top:9.4px">Accounts - Test 1 - Type</div></div>
<svg class="abs" style="left:1058.9px;top:330.33px" width="9" height="9" viewBox="0 0 9 9" ><path d="M1.3 3.9A3.4 3.4 0 0 1 7.2 2.4" fill="none" stroke="#212529" stroke-width="1.35"/><path d="M8.5 0.6V4H5.1z" fill="#212529"/><path d="M7.7 5.1A3.4 3.4 0 0 1 1.8 6.6" fill="none" stroke="#212529" stroke-width="1.35"/><path d="M0.5 8.4V5H3.9z" fill="#212529"/></svg><svg class="abs" style="left:997.9px;top:330.33px" width="9" height="9" viewBox="0 0 9 9" ><circle cx="4.5" cy="4.5" r="3.7" fill="none" stroke="#212529" stroke-width="0.75"/><path d="M4.5 2.4V5.2" stroke="#212529" stroke-width="1"/><path d="M2.8 4.6H6.2L4.5 6.6z" fill="#212529"/></svg><svg class="abs" style="left:1018.5px;top:330.53px" width="8.8" height="9" viewBox="0 0 8.8 9" ><path d="M1.9 3.6V0.55H5.9L6.9 1.5V3.6" fill="#f8f9fa" stroke="#212529" stroke-width="1.05"/><rect x="0.2" y="3.3" width="8.4" height="3.6" rx="0.9" fill="#212529"/><rect x="1.9" y="5.6" width="5" height="2.8" fill="#f8f9fa" stroke="#212529" stroke-width="1.05"/><rect x="7" y="4.2" width="0.8" height="0.8" fill="#f8f9fa"/></svg><svg class="abs" style="left:1039.3000000000002px;top:330.63px" width="10" height="8.4" viewBox="0 0 10 8.4" ><rect x="0.0" y="6.800000000000001" width="1.7" height="1.5" fill="#5d6268"/><rect x="2.02" y="5.120000000000001" width="1.7" height="3.1799999999999997" fill="#5d6268"/><rect x="4.04" y="3.4400000000000013" width="1.7" height="4.859999999999999" fill="#5d6268"/><rect x="6.0600000000000005" y="1.7600000000000007" width="1.7" height="6.54" fill="#5d6268"/><rect x="8.08" y="0.08000000000000185" width="1.7" height="8.219999999999999" fill="#5d6268"/></svg><svg class="abs" style="left:0px;top:0px" width="1080" height="527" viewBox="0 0 1080 527" ><rect x="747.20" y="353.90" width="322.98" height="0.7" fill="#e9e9e9"/><text class="cl" x="746.6" y="356.85" text-anchor="end">2</text><rect x="747.20" y="368.74" width="322.98" height="0.7" fill="#e9e9e9"/><text class="cl" x="746.6" y="371.69" text-anchor="end">1.8</text><rect x="747.20" y="383.58" width="322.98" height="0.7" fill="#e9e9e9"/><text class="cl" x="746.6" y="386.53" text-anchor="end">1.6</text><rect x="747.20" y="398.42" width="322.98" height="0.7" fill="#e9e9e9"/><text class="cl" x="746.6" y="401.37" text-anchor="end">1.4</text><rect x="747.20" y="413.26" width="322.98" height="0.7" fill="#e9e9e9"/><text class="cl" x="746.6" y="416.21" text-anchor="end">1.2</text><rect x="747.20" y="428.10" width="322.98" height="0.7" fill="#e9e9e9"/><text class="cl" x="746.6" y="431.05" text-anchor="end">1</text><rect x="747.20" y="442.94" width="322.98" height="0.7" fill="#e9e9e9"/><text class="cl" x="746.6" y="445.89" text-anchor="end">0.8</text><rect x="747.20" y="457.78" width="322.98" height="0.7" fill="#e9e9e9"/><text class="cl" x="746.6" y="460.73" text-anchor="end">0.6</text><rect x="747.20" y="472.62" width="322.98" height="0.7" fill="#e9e9e9"/><text class="cl" x="746.6" y="475.57" text-anchor="end">0.4</text><rect x="747.20" y="487.46" width="322.98" height="0.7" fill="#e9e9e9"/><text class="cl" x="746.6" y="490.41" text-anchor="end">0.2</text><rect x="747.20" y="502.30" width="322.98" height="0.7" fill="#c9c9c9"/><text class="cl" x="746.6" y="505.25" text-anchor="end">0</text><rect x="752.15" y="354.25" width="0.7" height="152.60" fill="#c9c9c9"/><rect x="781.03" y="354.25" width="0.7" height="152.60" fill="#e9e9e9"/><rect x="809.91" y="354.25" width="0.7" height="152.60" fill="#e9e9e9"/><rect x="838.79" y="354.25" width="0.7" height="152.60" fill="#e9e9e9"/><rect x="867.67" y="354.25" width="0.7" height="152.60" fill="#e9e9e9"/><rect x="896.55" y="354.25" width="0.7" height="152.60" fill="#e9e9e9"/><rect x="925.43" y="354.25" width="0.7" height="152.60" fill="#e9e9e9"/><rect x="954.31" y="354.25" width="0.7" height="152.60" fill="#e9e9e9"/><rect x="983.19" y="354.25" width="0.7" height="152.60" fill="#e9e9e9"/><rect x="1012.07" y="354.25" width="0.7" height="152.60" fill="#e9e9e9"/><rect x="1040.95" y="354.25" width="0.7" height="152.60" fill="#e9e9e9"/><rect x="1069.83" y="354.25" width="0.7" height="152.60" fill="#e9e9e9"/><rect x="755.25" y="428.45" width="2.25" height="74.20" fill="#c01cfc"/><rect x="805" y="428.45" width="2" height="74.20" fill="#5fa98e"/><rect x="822.25" y="354.25" width="2.25" height="148.40" fill="#7b3b55"/><rect x="827" y="354.25" width="1.75" height="148.40" fill="#7fc97f"/><rect x="831.5" y="354.25" width="2.25" height="148.40" fill="#1ddf3e"/><rect x="844.25" y="428.45" width="2.0" height="74.20" fill="#8f7a40"/><rect x="848.75" y="428.45" width="2.0" height="74.20" fill="#d4e635"/><rect x="884.75" y="428.45" width="2.0" height="74.20" fill="#a6b83a"/><rect x="891.25" y="428.45" width="2.5" height="74.20" fill="#c8782a"/><rect x="908.75" y="428.45" width="2.25" height="74.20" fill="#4d5e4e"/><rect x="915.75" y="428.45" width="2.0" height="74.20" fill="#3fcfa0"/><rect x="933" y="428.45" width="4.5" height="74.20" fill="#9147f5"/><rect x="964.5" y="428.45" width="2.0" height="74.20" fill="#8080b8"/><rect x="973.5" y="428.45" width="2.0" height="74.20" fill="#1ad12a"/><rect x="978.25" y="428.45" width="2.0" height="74.20" fill="#b03050"/><rect x="1007.25" y="428.45" width="2.0" height="74.20" fill="#33ebf0"/><rect x="1019.75" y="428.45" width="2.0" height="74.20" fill="#2ae0fb"/><rect x="1036.25" y="428.45" width="2.0" height="74.20" fill="#5fa98e"/><rect x="1055.5" y="428.45" width="2.25" height="74.20" fill="#8b4a10"/></svg><svg class="abs" style="left:0px;top:0px" width="1080" height="527" viewBox="0 0 1080 527" ><g transform="translate(-1.6 0)"><g transform="translate(0.8 0.8)" fill="#333" opacity="0.6"><ellipse cx="911.2" cy="472.6" rx="14" ry="10.6"/><path d="M902.5 479.5L900.8 487.6L909.5 482.6z"/><ellipse cx="924.3" cy="482.4" rx="12" ry="9.4"/><path d="M929.5 490.3L933.4 494.6L925.5 491.6z"/></g><g fill="#fff" opacity="0.92"><ellipse cx="911.2" cy="472.6" rx="14" ry="10.6"/><path d="M902.5 479.5L900.8 487.6L909.5 482.6z"/></g><circle cx="905.7" cy="470" r="1.7" fill="#fff" stroke="#999" stroke-width="0.7"/><circle cx="917.1" cy="470" r="1.7" fill="#fff" stroke="#999" stroke-width="0.7"/><g fill="#555" opacity="0.5" transform="translate(-0.2 -0.2)"><ellipse cx="924.3" cy="482.4" rx="13" ry="10.4"/></g><g fill="#fff" opacity="0.95"><ellipse cx="924.3" cy="482.4" rx="12" ry="9.4"/><path d="M929.5 490.3L933.4 494.6L925.5 491.6z"/></g><circle cx="919.6" cy="478.9" r="1.4" fill="#fff" stroke="#999" stroke-width="0.7"/><circle cx="928.6" cy="478.9" r="1.4" fill="#fff" stroke="#999" stroke-width="0.7"/><text x="944.3" y="491.1" font-family="Liberation Sans" font-size="29" textLength="101" lengthAdjust="spacing" fill="#333" opacity="0.7">andflow</text><text x="943.6" y="490.4" font-family="Liberation Sans" font-size="29" textLength="101" lengthAdjust="spacing" fill="#fff" opacity="0.9">andflow</text></g></svg><div id="topbar" class="abs"></div>
<svg class="abs" style="left:0px;top:0px" width="300" height="28" viewBox="0 0 300 28" ><rect x="32.6" y="4.3" width="250.7" height="19.4" rx="2.4" fill="#fff"/></svg><div class="abs" style="left:116.2px;top:4.3px;width:0.8px;height:19.4px;background:#e2e5e9"></div><div class="abs" style="left:215.4px;top:4.3px;width:0.8px;height:19.4px;background:#e2e5e9"></div><div class="abs" style="left:238.4px;top:4.3px;width:0.8px;height:19.4px;background:#e2e5e9"></div><div class="abs" style="left:260.4px;top:4.3px;width:0.8px;height:19.4px;background:#e2e5e9"></div><div class="t" style="left:38px;top:11.1px;font-size:7.7px;color:#555">All records</div><div class="abs" style="left:105.6px;top:13.8px;width:0;height:0;border-left:2.3px solid transparent;border-right:2.3px solid transparent;border-top:2.6px solid #444"></div><div class="t" style="left:122px;top:11.1px;font-size:7.7px;color:#777;width:91px;overflow:hidden">Type keyword and press e</div><svg class="abs" style="left:221.8px;top:9.6px" width="9" height="9" viewBox="0 0 9 9" ><circle cx="3.7" cy="3.7" r="2.6" fill="none" stroke="#222" stroke-width="1.15"/><path d="M5.7 5.7L8.3 8.2" stroke="#222" stroke-width="1.35" stroke-linecap="round"/></svg><svg class="abs" style="left:244.5px;top:8.7px" width="9.6" height="9.6" viewBox="0 0 9.6 9.6" ><circle cx="4.8" cy="4.8" r="3.1" fill="none" stroke="#222" stroke-width="1"/><path d="M4.8 0.3V3M4.8 6.6V9.3M0.3 4.8H3M6.6 4.8H9.3" stroke="#222" stroke-width="1.1"/></svg><svg class="abs" style="left:267.9px;top:11px" width="8" height="6.8" viewBox="0 0 8 6.8" ><rect x="0" y="0" width="3.7" height="3.1" rx="0.3" fill="#222"/><rect x="4.3" y="0" width="3.7" height="3.1" rx="0.3" fill="#222"/><rect x="0" y="3.7" width="3.7" height="3.1" rx="0.3" fill="#222"/><rect x="4.3" y="3.7" width="3.7" height="3.1" rx="0.3" fill="#222"/></svg><svg class="abs" style="left:400px;top:0px" width="220" height="28" viewBox="0 0 220 28" ><rect x="9.1" y="4.3" width="194.4" height="19.4" rx="2.4" fill="#d1ecf1"/></svg><div class="t" style="left:437.7px;top:10.4px;font-size:8.82px;font-weight:bold;color:#0c5460">YetiForce - Development version</div><svg class="abs" style="left:418.7px;top:9.6px" width="10" height="9" viewBox="0 0 10 9" ><path d="M5 0.5Q5.5 0.5 5.8 1L9.7 7.8Q10 8.6 9.2 8.7H0.8Q0 8.6 0.3 7.8L4.2 1Q4.5 0.5 5 0.5z" fill="#0c5460"/><rect x="4.4" y="2.9" width="1.2" height="3" fill="#d1ecf1"/><rect x="4.4" y="6.5" width="1.2" height="1.2" fill="#d1ecf1"/></svg><svg class="abs" style="left:584px;top:9.6px" width="10" height="9" viewBox="0 0 10 9" ><path d="M5 0.5Q5.5 0.5 5.8 1L9.7 7.8Q10 8.6 9.2 8.7H0.8Q0 8.6 0.3 7.8L4.2 1Q4.5 0.5 5 0.5z" fill="#0c5460"/><rect x="4.4" y="2.9" width="1.2" height="3" fill="#d1ecf1"/><rect x="4.4" y="6.5" width="1.2" height="1.2" fill="#d1ecf1"/></svg><svg class="abs" style="left:0px;top:0px" width="1080" height="28" viewBox="0 0 1080 28" ><rect x="850.4" y="4.4" width="21" height="18.9" rx="1.2" fill="#0f62d2"/><rect x="850.4" y="4.40" width="21" height="2.6" fill="#2b82f0" rx="1.2"/><rect x="850.4" y="6.50" width="21" height="2.6" fill="#287eec" /><rect x="850.4" y="8.60" width="21" height="2.6" fill="#247ae9" /><rect x="850.4" y="10.70" width="21" height="2.6" fill="#2176e5" /><rect x="850.4" y="12.80" width="21" height="2.6" fill="#1d72e1" /><rect x="850.4" y="14.90" width="21" height="2.6" fill="#1a6edd" /><rect x="850.4" y="17.00" width="21" height="2.6" fill="#166ada" /><rect x="850.4" y="19.10" width="21" height="2.1" fill="#1366d6" /><rect x="850.4" y="21" width="21" height="2.3" rx="1.2" fill="#0f62d2"/><rect x="875.8" y="4.4" width="15.3" height="18.9" rx="2.2" fill="#fdfdfe"/><rect x="895.3" y="4.4" width="18" height="18.9" rx="2.2" fill="#fdfdfe"/><rect x="918" y="4.4" width="15.1" height="18.9" rx="2.2" fill="#fdfdfe"/><rect x="937.6" y="4.4" width="29.3" height="18.9" rx="2.2" fill="#fdfdfe"/><rect x="971.3" y="4.4" width="29.6" height="18.9" rx="2.2" fill="#fdfdfe"/><rect x="1005.8" y="4.4" width="17.3" height="18.9" rx="2.2" fill="#fdfdfe"/><rect x="1027.6" y="4.4" width="18.2" height="18.9" rx="2.2" fill="#fdfdfe"/><rect x="1050" y="4.4" width="25.3" height="18.9" rx="2.2" fill="#fdfdfe"/></svg><svg class="abs" style="left:855px;top:8px" width="12" height="11" viewBox="0 0 12 11" ><ellipse cx="6" cy="4.7" rx="5.6" ry="4.3" fill="#fff"/><path d="M2 7.4L1 10.3L5 8.6z" fill="#fff"/><circle cx="6" cy="4.5" r="1.5" fill="none" stroke="#3b8af0" stroke-width="0.6"/></svg><svg class="abs" style="left:879.3px;top:9.8px" width="7.9" height="7.9" viewBox="0 0 9 9" ><rect x="0.5" y="0.5" width="5.3" height="5.3" fill="#fff" stroke="#333" stroke-width="0.95"/><rect x="2.8" y="2.8" width="5.4" height="5.4" fill="#fff" stroke="#222" stroke-width="1"/><path d="M5.5 4.2V6.8M4.2 5.5H6.8" stroke="#222" stroke-width="1"/></svg><svg class="abs" style="left:900px;top:9.8px" width="8.6" height="8.6" viewBox="0 0 8.6 8.6" ><path d="M4.3 0.4V8.2M0.4 4.3H8.2" stroke="#111" stroke-width="1.45"/></svg><svg class="abs" style="left:921px;top:8.6px" width="9.4" height="10" viewBox="0 0 9.4 10" ><rect x="0.3" y="2.6" width="3.8" height="7.2" fill="#333"/><rect x="5" y="2.6" width="3.8" height="7.2" fill="#333"/><rect x="0" y="1.6" width="9.2" height="1.6" fill="#333"/><path d="M2.3 0.3Q4.6 0.3 4.6 1.8Q4.6 0.3 6.9 0.3" fill="none" stroke="#333" stroke-width="0.8"/><rect x="1.7" y="4" width="0.8" height="5.8" fill="#a86"/><rect x="6.5" y="4" width="0.8" height="5.8" fill="#a86"/></svg><svg class="abs" style="left:942.5799999999999px;top:9.448px" width="8.64" height="9.504" viewBox="0 0 12 13.2" ><path d="M6 0.4Q6.9 0.4 6.9 1.3Q10 2 10 5.6Q10 8.6 11.6 9.8V10.6H0.4V9.8Q2 8.6 2 5.6Q2 2 5.1 1.3Q5.1 0.4 6 0.4z" fill="#222"/><path d="M4.4 11.3H7.6Q7.4 12.8 6 12.8Q4.6 12.8 4.4 11.3z" fill="#222"/></svg><div class="abs" style="left:952.4px;top:9.3px;width:9.6px;height:9.8px;background:#343a40;border-radius:1.5px"></div><div class="t" style="left:954.9px;top:10.6px;font-size:7.6px;color:#fff;font-weight:bold">3</div><svg class="abs" style="left:975.8px;top:9.3px" width="8.8" height="9.6" viewBox="0 0 8.8 9.6" ><rect x="0.2" y="1.3" width="8.4" height="8.1" rx="0.8" fill="#222"/><rect x="0.2" y="2.9" width="8.4" height="0.6" fill="#fff"/><rect x="1.9" y="0" width="1.2" height="2.2" fill="#222"/><rect x="5.7" y="0" width="1.2" height="2.2" fill="#222"/></svg><div class="abs" style="left:986px;top:9.3px;width:9.6px;height:9.8px;background:#d9534f;border-radius:1.5px"></div><div class="t" style="left:988.5px;top:10.6px;font-size:7.6px;color:#fff;font-weight:bold">3</div><svg class="abs" style="left:1009.4px;top:9px" width="10" height="10" viewBox="0 0 10 10" ><path d="M2.2 2.6A3.9 3.9 0 1 1 1.4 6.6" fill="none" stroke="#222" stroke-width="1.2"/><path d="M0.3 0.9L0.6 4.3L3.9 3.6z" fill="#222"/><path d="M5.2 3V5.4L6.8 6.6" fill="none" stroke="#222" stroke-width="1"/></svg><svg class="abs" style="left:1032.5px;top:9.6px" width="8.4" height="8.4" viewBox="0 0 10 10" ><circle cx="5" cy="5" r="2.6" fill="none" stroke="#222" stroke-width="2"/><rect x="4.1" y="0.2" width="1.8" height="2" fill="#222" transform="rotate(0 5 5)"/><rect x="4.1" y="0.2" width="1.8" height="2" fill="#222" transform="rotate(45 5 5)"/><rect x="4.1" y="0.2" width="1.8" height="2" fill="#222" transform="rotate(90 5 5)"/><rect x="4.1" y="0.2" width="1.8" height="2" fill="#222" transform="rotate(135 5 5)"/><rect x="4.1" y="0.2" width="1.8" height="2" fill="#222" transform="rotate(180 5 5)"/><rect x="4.1" y="0.2" width="1.8" height="2" fill="#222" transform="rotate(225 5 5)"/><rect x="4.1" y="0.2" width="1.8" height="2" fill="#222" transform="rotate(270 5 5)"/><rect x="4.1" y="0.2" width="1.8" height="2" fill="#222" transform="rotate(315 5 5)"/></svg><svg class="abs" style="left:1053.5px;top:8.3px" width="11" height="11.5" viewBox="0 0 11 11.5" ><path d="M3.6 1.3H7.4L5.5 4.8z" fill="#555"/><path d="M1.2 1.6H2.2Q2.9 5.2 5.1 7.4V10.2Q1.8 7 1.2 1.6z" fill="#999"/><path d="M9.8 1.6H8.8Q8.1 5.2 5.9 7.4V10.2Q9.2 7 9.8 1.6z" fill="#999"/></svg><div class="abs" style="left:1067.1px;top:12.6px;width:0;height:0;border-left:2.5px solid transparent;border-right:2.5px solid transparent;border-top:2.9px solid #222"></div><div id="side" class="abs"></div><div id="logo" class="abs"></div>
<svg class="abs" style="left:0px;top:0px" width="28" height="28" viewBox="0 0 28 28" ><path d="M8.7 3.5H18.6L13.6 10.6z" fill="#fff"/><path d="M3.2 4Q6.4 12 10.6 23.6H11.6Q12.4 13 3.2 4z" fill="#fff"/><path d="M24 4Q20.8 12 16.6 23.6H15.6Q14.8 13 24 4z" fill="#fff"/></svg><div class="abs" style="left:0;top:309.5px;width:28px;height:1px;background:#9ea3ad"></div><div class="abs" style="left:0;top:310.5px;width:28px;height:28px;background:#343a49"></div>
<svg class="abs" style="left:6.30px;top:32.60px" width="14.40" height="14.40" viewBox="0 0 14.4 14.4" ><circle cx="7.2" cy="7.2" r="6.3" fill="none" stroke="#fff" stroke-width="1.25"/><circle cx="7.2" cy="7.2" r="4.6" fill="none" stroke="#cdb9a8" stroke-width="0.7" stroke-dasharray="0.7 0.9"/><path d="M6.9 10 L10.3 4.6" stroke="#fff" stroke-width="1.1" stroke-linecap="round"/><circle cx="6.9" cy="10" r="1.25" fill="#fff"/></svg>
<svg class="abs" style="left:6.90px;top:58.10px" width="13.20" height="13.60" viewBox="0 0 13.2 13.6" ><rect x="1.6" y="0.4" width="10" height="12.4" fill="#fff"/><rect x="0" y="12.3" width="13.2" height="1.1" fill="#fff"/><rect x="3.1" y="1.9" width="3.1" height="2.5" fill="#464e62"/><rect x="7.0" y="1.9" width="3.1" height="2.5" fill="#464e62"/><rect x="3.1" y="5.3" width="3.1" height="2.5" fill="#464e62"/><rect x="7.0" y="5.3" width="3.1" height="2.5" fill="#464e62"/><rect x="3.1" y="8.7" width="3.1" height="2.5" fill="#464e62"/><rect x="7.0" y="8.7" width="3.1" height="2.5" fill="#464e62"/><rect x="5.4" y="9.8" width="2.4" height="2.6" fill="#fff"/></svg>
<svg class="abs" style="left:6.50px;top:83.50px" width="14.50" height="13.40" viewBox="-0.6 -0.6 15.1 14" ><g transform="translate(3.3,0.5)"><rect x="0" y="0" width="10.6" height="5.6" fill="#464e62" stroke="#fff" stroke-width="1.1"/><path d="M0.4 0.4L5.3 3.6L10.2 0.4M0.4 5.2L3.6 2.6M10.2 5.2L7 2.6" fill="none" stroke="#fff" stroke-width="0.8"/></g><g transform="translate(1.7,3.7)"><rect x="0" y="0" width="10.6" height="5.6" fill="#464e62" stroke="#fff" stroke-width="1.1"/><path d="M0.4 0.4L5.3 3.6L10.2 0.4M0.4 5.2L3.6 2.6M10.2 5.2L7 2.6" fill="none" stroke="#fff" stroke-width="0.8"/></g><g transform="translate(0.5,7.2)"><rect x="0" y="0" width="10.6" height="5.6" fill="#464e62" stroke="#fff" stroke-width="1.1"/><path d="M0.4 0.4L5.3 3.6L10.2 0.4M0.4 5.2L3.6 2.6M10.2 5.2L7 2.6" fill="none" stroke="#fff" stroke-width="0.8"/></g></svg>
<svg class="abs" style="left:6.64px;top:108.98px" width="15.12" height="14.04" viewBox="0 0 14 13" ><ellipse cx="6.8" cy="7.6" rx="5.2" ry="3.9" fill="#fff"/><circle cx="6.6" cy="1.9" r="1.25" fill="none" stroke="#fff" stroke-width="0.7"/><path d="M10.2 4.2l1.6-1v2.4z" fill="#fff"/><rect x="2.8" y="9.6" width="2.2" height="2.8" fill="#fff"/><rect x="8.4" y="9.6" width="2.2" height="2.8" fill="#fff"/><rect x="11" y="6.3" width="2" height="2.6" rx="0.6" fill="#fff"/><path d="M1.8 6.5 Q0.3 6 0.6 4.6" fill="none" stroke="#fff" stroke-width="0.7"/></svg>
<svg class="abs" style="left:5.94px;top:134.20px" width="15.12" height="13.39" viewBox="0 0 14 12.4" ><path d="M4.9 2.4V1.6Q4.9 0.7 5.8 0.7H8.2Q9.1 0.7 9.1 1.6V2.4" fill="none" stroke="#fff" stroke-width="1"/><rect x="0.4" y="2.2" width="13.2" height="9.6" rx="0.7" fill="#fff"/><rect x="0.4" y="8.7" width="13.2" height="0.6" fill="#8c93a3"/><rect x="3.1" y="8.2" width="1.4" height="1.5" fill="#97a"/><rect x="9.5" y="8.2" width="1.4" height="1.5" fill="#8a9"/></svg>
<svg class="abs" style="left:8.00px;top:159.10px" width="11.20" height="13.80" viewBox="0 0 11.2 13.8" ><path d="M1.6 7.6V5.6Q1.6 0.7 5.6 0.7Q9.6 0.7 9.6 5.6V7.6" fill="none" stroke="#fff" stroke-width="1.3"/><rect x="1.9" y="5.6" width="2.3" height="4.2" rx="0.9" fill="#fff"/><rect x="7" y="5.6" width="2.3" height="4.2" rx="0.9" fill="#fff"/><path d="M1.6 7.4Q1.8 10.2 3.6 10.2M9.6 7.4Q9.4 11.6 6.4 12.3" fill="none" stroke="#fff" stroke-width="0.9"/><rect x="4" y="11.5" width="2.8" height="1.6" rx="0.8" fill="#fff"/></svg>
<svg class="abs" style="left:6.15px;top:184.15px" width="14.70" height="14.70" viewBox="0 0 14 14" ><circle cx="7" cy="7" r="6.6" fill="#fff"/><text x="7" y="10.3" text-anchor="middle" font-family="Liberation Sans" font-weight="bold" font-size="8.6" fill="#464e62">$</text></svg>
<svg class="abs" style="left:6.80px;top:209.50px" width="14.20" height="14.00" viewBox="0 0 14.2 14" ><rect x="0.6" y="4.8" width="7.6" height="8.6" fill="#fff"/><rect x="0" y="13" width="9" height="0.9" fill="#fff"/><rect x="1.7" y="5.9" width="2.4" height="1.6" fill="#464e62"/><rect x="4.7" y="5.9" width="2.4" height="1.6" fill="#464e62"/><rect x="1.7" y="8.3" width="2.4" height="1.6" fill="#464e62"/><rect x="4.7" y="8.3" width="2.4" height="1.6" fill="#464e62"/><rect x="1.7" y="10.7" width="2.4" height="1.6" fill="#464e62"/><rect x="4.7" y="10.7" width="2.4" height="1.6" fill="#464e62"/><rect x="3.5" y="11.3" width="1.8" height="1.8" fill="#fff"/><path d="M7.6 2.2V4.8" stroke="#fff" stroke-width="0.8"/><rect x="7.6" y="0.2" width="6.4" height="2.9" rx="0.5" fill="#fff"/><rect x="11.6" y="0.9" width="1.6" height="1.3" fill="#d88"/></svg>
<svg class="abs" style="left:6.48px;top:234.22px" width="14.04" height="15.12" viewBox="0 0 13 14" ><path d="M3.4 6V4.2Q3.4 1 6.5 1Q9.6 1 9.6 4.2V6" fill="none" stroke="#fff" stroke-width="1.7"/><rect x="0.6" y="5.6" width="11.8" height="7.6" rx="1.1" fill="#fff"/></svg>
<svg class="abs" style="left:6.35px;top:260.85px" width="15.40" height="14.30" viewBox="0 0 14 13" ><circle cx="5" cy="4.9" r="2.7" fill="#fff"/><path d="M0.2 12.6Q0.2 8 5 8Q9.8 8 9.8 12.6z" fill="#fff"/><rect x="8.6" y="0.4" width="4.6" height="3.3" rx="0.5" fill="#fff"/><rect x="11.2" y="1" width="1.4" height="1.2" fill="#d9a"/><path d="M8.9 3.6L8.3 5L10.2 3.6z" fill="#fff"/></svg>
<svg class="abs" style="left:7.00px;top:286.00px" width="13.00" height="14.00" viewBox="0 0 13 14" ><path d="M0.9 2.8V10.8Q0.9 13.2 6.5 13.2Q12.1 13.2 12.1 10.8V2.8" fill="#464e62" stroke="#fff" stroke-width="1.3"/><ellipse cx="6.5" cy="2.9" rx="5.6" ry="2.1" fill="#464e62" stroke="#fff" stroke-width="1.3"/><path d="M0.9 5.6Q1.2 7.8 6.5 7.8Q11.8 7.8 12.1 5.6M0.9 8.3Q1.2 10.5 6.5 10.5Q11.8 10.5 12.1 8.3" fill="none" stroke="#fff" stroke-width="1.2"/></svg>
<svg class="abs" style="left:5.38px;top:317.69px" width="16.24" height="14.62" viewBox="0 0 14 12.6" ><path d="M7 0.9L0.3 6.6L1.2 7.7L7 2.8L12.8 7.7L13.7 6.6L11.4 4.6V1.4H9.8V3.2z" fill="#fff"/><path d="M7 4.1L2.3 8V12H5.6V8.9H8.4V12H11.7V8z" fill="#fff"/></svg>
<svg class="abs" style="left:6.90px;top:343.30px" width="13.20" height="13.60" viewBox="0 0 13.2 13.6" ><rect x="1.6" y="0.4" width="10" height="12.4" fill="#fff"/><rect x="0" y="12.3" width="13.2" height="1.1" fill="#fff"/><rect x="3.1" y="1.9" width="3.1" height="2.5" fill="#464e62"/><rect x="7.0" y="1.9" width="3.1" height="2.5" fill="#464e62"/><rect x="3.1" y="5.3" width="3.1" height="2.5" fill="#464e62"/><rect x="7.0" y="5.3" width="3.1" height="2.5" fill="#464e62"/><rect x="3.1" y="8.7" width="3.1" height="2.5" fill="#464e62"/><rect x="7.0" y="8.7" width="3.1" height="2.5" fill="#464e62"/><rect x="5.4" y="9.8" width="2.4" height="2.6" fill="#fff"/></svg>
<svg class="abs" style="left:6.90px;top:369.50px" width="13.20" height="11.80" viewBox="0 0 13.2 11.8" ><path d="M0.3 0.2Q0.6 2.6 3.4 2.7H9.8Q12.6 2.6 12.9 0.2Q13.6 4.2 9.8 4.4H3.4Q-0.4 4.2 0.3 0.2z" fill="#fff"/><path d="M3 5.4L6.6 11.6L10.2 5.4H8.6L6.6 9L4.6 5.4z" fill="#fff"/></svg>
<svg class="abs" style="left:6.48px;top:392.58px" width="14.04" height="15.44" viewBox="0 0 12 13.2" ><path d="M6 0.4Q6.9 0.4 6.9 1.3Q10 2 10 5.6Q10 8.6 11.6 9.8V10.6H0.4V9.8Q2 8.6 2 5.6Q2 2 5.1 1.3Q5.1 0.4 6 0.4z" fill="#fff"/><path d="M4.4 11.3H7.6Q7.4 12.8 6 12.8Q4.6 12.8 4.4 11.3z" fill="#fff"/></svg>
<svg class="abs" style="left:6.48px;top:418.58px" width="14.04" height="14.04" viewBox="0 0 13 13" ><circle cx="6.5" cy="6.5" r="6.3" fill="#fff"/><circle cx="6.5" cy="5" r="2.2" fill="#464e62"/><path d="M2.6 10.2Q3 7.8 6.5 7.8Q10 7.8 10.4 10.2Q8.8 11.8 6.5 11.8Q4.2 11.8 2.6 10.2z" fill="#464e62"/></svg>
<div id="foot" class="abs"></div>
<div class="t" style="left:0;width:1080px;text-align:center;top:510.9px;font-size:6.6px;color:#fff;transform:scaleX(0.91)">Copyright © YetiForce.com All rights reserved. [ver. 6.3.70] [Page loading time: 0.522s.]</div><div class="t" style="left:0;width:1080px;text-align:center;top:519.9px;font-size:6.6px;color:#fff;transform:scaleX(0.905)">YetiForce was created thanks to <u>open source project</u> called Vtiger CRM and other open source projects.</div><svg class="abs" style="left:4.6000000000000005px;top:512px" width="13" height="13" viewBox="0 0 13 13" ><rect x="0" y="0" width="13" height="13" rx="2" fill="#fff"/><rect x="2.3" y="5" width="1.9" height="5.7" fill="#343a43"/><circle cx="3.25" cy="3.1" r="1.1" fill="#343a43"/><path d="M5.5 5H7.3V5.9Q7.9 4.8 9.1 4.8Q10.9 4.8 10.9 7.2V10.7H9.1V7.5Q9.1 6.3 8.3 6.3Q7.4 6.3 7.4 7.5V10.7H5.5z" fill="#343a43"/></svg><svg class="abs" style="left:20.7px;top:512px" width="13" height="13" viewBox="0 0 13 13" ><rect x="0" y="0" width="13" height="13" rx="2" fill="#fff"/><path d="M10.8 3.9Q10.3 4.2 9.8 4.2Q10.4 3.8 10.6 3.2Q10 3.5 9.5 3.6Q8.9 3 8.1 3Q6.5 3.1 6.5 4.8V5.1Q4.2 5 2.8 3.3Q2.1 4.8 3.4 5.8Q2.9 5.8 2.6 5.6Q2.7 7.1 4.1 7.5Q3.7 7.6 3.3 7.5Q3.7 8.7 5 8.8Q3.9 9.7 2.3 9.6Q3.5 10.4 5.1 10.4Q9.6 10.2 9.8 5.2V4.9Q10.4 4.5 10.8 3.9z" fill="#343a43"/></svg><svg class="abs" style="left:37.1px;top:512px" width="13" height="13" viewBox="0 0 13 13" ><rect x="0" y="0" width="13" height="13" rx="2" fill="#fff"/><path d="M7 13V8.1H5.4V6.2H7V4.9Q7 2.6 9.3 2.6H10.6V4.4H9.8Q8.9 4.4 8.9 5.2V6.2H10.6L10.3 8.1H8.9V13z" fill="#343a43"/></svg><svg class="abs" style="left:53.4px;top:512px" width="13" height="13" viewBox="0 0 13 13" ><rect x="0" y="0" width="13" height="13" rx="2" fill="#fff"/><path d="M6.5 2Q2.2 2.2 2 6.5Q2.1 9.8 5 10.9Q5.4 10.9 5.4 10.6V9.7Q3.8 10 3.5 8.9Q3.2 8.2 2.8 8Q2.3 7.6 2.9 7.6Q3.5 7.7 3.8 8.3Q4.4 9.2 5.4 8.8Q5.5 8.3 5.8 8.1Q3.6 7.8 3.6 5.8Q3.6 4.9 4.2 4.3Q4 3.7 4.3 3Q5 3 5.7 3.6Q6.5 3.4 7.3 3.6Q8 3 8.7 3Q9 3.7 8.8 4.3Q9.4 4.9 9.4 5.8Q9.4 7.8 7.2 8.1Q7.6 8.4 7.6 9.1V10.6Q7.6 10.9 8 10.9Q10.9 9.8 11 6.5Q10.8 2.2 6.5 2z" fill="#343a43"/></svg><svg class="abs" style="left:1017.6px;top:510.7px" width="15.6" height="14.5" viewBox="0 0 15.6 14.5" ><path d="M0.3 0.6H2.6L3.2 2.2H13.6L12.2 7.6H4.4L4.7 8.8H12.4V10H3.7L1.8 1.8H0.3z" fill="#fff"/><circle cx="5" cy="11.7" r="1.3" fill="#fff"/><circle cx="11.2" cy="11.7" r="1.3" fill="#fff"/></svg><svg class="abs" style="left:1040.5px;top:512.2px" width="14" height="12" viewBox="0 0 14 12" ><path d="M0.4 1.8Q3.6 0.6 6.5 2.2V11.2Q3.6 9.6 0.4 10.8z" fill="#fff"/><path d="M13.6 1.8Q10.4 0.6 7.5 2.2V11.2Q10.4 9.6 13.6 10.8z" fill="#fff"/><path d="M8.8 0L11.6 0V5.6L10.2 4.4L8.8 5.6z" fill="#fff" stroke="#343a43" stroke-width="0.5"/></svg><svg class="abs" style="left:1061.5px;top:511.8px" width="13.4" height="13.4" viewBox="0 0 13.4 13.4" ><circle cx="6.7" cy="6.7" r="6.5" fill="#fff"/><circle cx="6.7" cy="3.6" r="1.2" fill="#343a43"/><path d="M5.2 5.6H7.6V9.6H8.4V10.6H5V9.6H5.8V6.6H5.2z" fill="#343a43"/></svg>
</body></html>
